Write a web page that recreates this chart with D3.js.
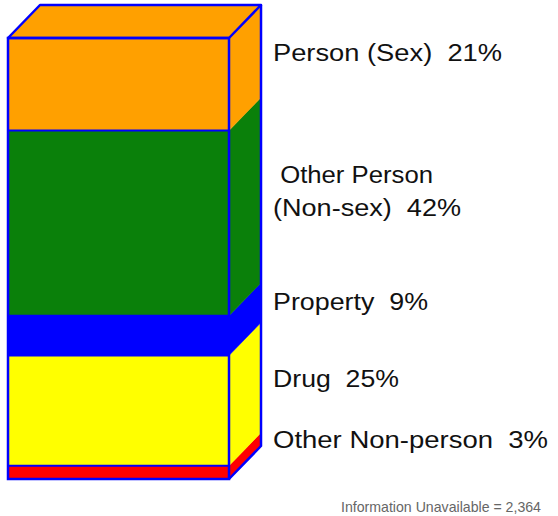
<!DOCTYPE html>
<html><head><meta charset="utf-8">
<script src="https://cdn.jsdelivr.net/npm/d3@7/dist/d3.min.js"></script>
<style>html,body{margin:0;padding:0;background:#fff;}</style>
</head><body>
<script>
// Data (bottom to top)
const categories = ["Other Non-person", "Drug", "Property", "Other Person (Non-sex)", "Person (Sex)"];
const values = [3, 25, 9, 42, 21];
const colors = ["#ff0000", "#ffff00", "#0000ff", "#0a800a", "#ffa000"];
const labelLines = [["Other Non-person  3%"], ["Drug  25%"], ["Property  9%"], [" Other Person", "(Non-sex)  42%"], ["Person (Sex)  21%"]];
const footnote = "Information Unavailable = 2,364";

// Layout
const W = 558, H = 516;
const x0 = 8, x1 = 229, dx = 32, dy = 33;
const labelX = 273;
const labelBaselines = [[448], [387], [310], [183, 216], [61]];
const labelWidths = [[275], [126], [155], [160, 188], [229]];

const svg = d3.select("body").append("svg").attr("width", W).attr("height", H);
const y = d3.scaleLinear().domain([0, d3.sum(values)]).range([479, 38]);

let cum = 0;
const segs = values.map((v, i) => { const s = {i, a: cum, b: cum + v}; cum += v; return s; });

const g = svg.append("g");
const stroke = "#0000ff", sw = 2.5;

segs.forEach(s => {
  const yb = y(s.a), yt = y(s.b);
  g.append("path")
    .attr("d", `M${x1},${yb} L${x1+dx},${yb-dy} L${x1+dx},${yt-dy} L${x1},${yt} Z`)
    .attr("fill", colors[s.i]).attr("stroke", colors[s.i]).attr("stroke-width", 0.5);
  g.append("rect").attr("x", x0).attr("y", yt).attr("width", x1 - x0).attr("height", yb - yt)
    .attr("fill", colors[s.i]);
});
const topSeg = segs[segs.length - 1];
const yTop = y(topSeg.b);
g.append("path")
  .attr("d", `M${x0},${yTop} L${x0+dx},${yTop-dy} L${x1+dx},${yTop-dy} L${x1},${yTop} Z`)
  .attr("fill", colors[topSeg.i]).attr("stroke", stroke).attr("stroke-width", sw).attr("stroke-linejoin", "round");

segs.forEach(s => {
  if (s.a > 0) {
    g.append("line").attr("x1", x0).attr("x2", x1).attr("y1", y(s.a)).attr("y2", y(s.a))
      .attr("stroke", stroke).attr("stroke-width", 2);
  }
});
const yBot = y(0);
g.append("rect").attr("x", x0).attr("y", yTop).attr("width", x1 - x0).attr("height", yBot - yTop)
  .attr("fill", "none").attr("stroke", stroke).attr("stroke-width", sw);
g.append("path")
  .attr("d", `M${x1},${yBot} L${x1+dx},${yBot-dy} L${x1+dx},${yTop-dy}`)
  .attr("fill", "none").attr("stroke", stroke).attr("stroke-width", sw).attr("stroke-linejoin", "round");

labelLines.forEach((lines, i) => {
  lines.forEach((t, j) => {
    svg.append("text")
      .attr("x", labelX).attr("y", labelBaselines[i][j])
      .attr("textLength", labelWidths[i][j]).attr("lengthAdjust", "spacingAndGlyphs")
      .attr("font-family", "Liberation Sans, Arial, sans-serif").attr("font-size", 23)
      .attr("fill", "#111").style("white-space", "pre")
      .text(t);
  });
});

svg.append("text").attr("x", 541).attr("y", 512).attr("text-anchor", "end")
  .attr("textLength", 200).attr("lengthAdjust", "spacingAndGlyphs")
  .attr("font-family", "Liberation Sans, Arial, sans-serif").attr("font-size", 15)
  .attr("fill", "#666").text(footnote);
</script>
</body></html>
